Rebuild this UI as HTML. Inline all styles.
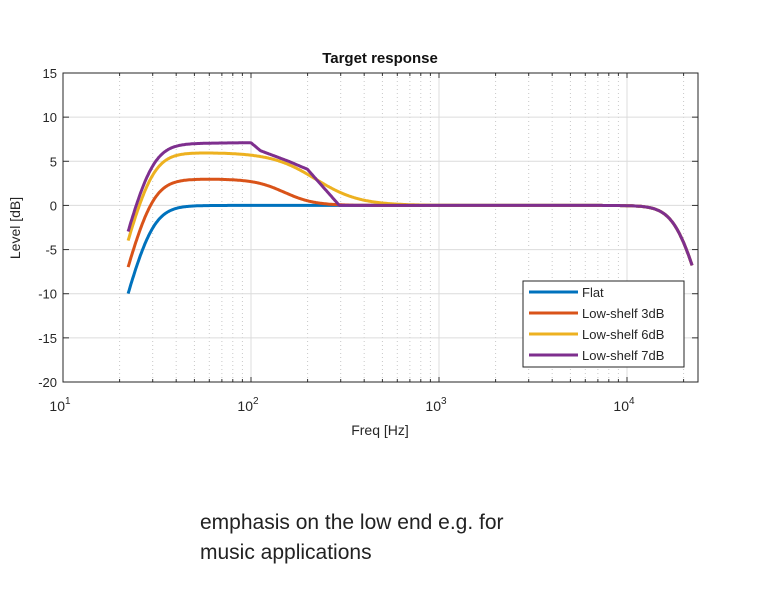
<!DOCTYPE html>
<html><head><meta charset="utf-8"><style>
body{margin:0;background:#fff;width:760px;height:606px;overflow:hidden;font-family:"Liberation Sans",sans-serif}
#t{position:absolute;left:200px;top:508px;font-size:21px;line-height:30px;color:#222}
</style></head><body>
<svg id="s" width="760" height="606" style="position:absolute;left:0;top:0" font-family="Liberation Sans, sans-serif"></svg>
<div id="t">emphasis on the low end e.g. for<br>music applications</div>
<script>
const L=63,R=698,T=73,B=382,D=188;
const X=f=>L+(Math.log10(f)-1)*D, Y=v=>T+(15-v)*(B-T)/35;
let s='';
// grid
for(let d=1;d<=4;d++)for(let m=1;m<10;m++){const f=m*Math.pow(10,d);const x=X(f);if(x>R)break;
 if(m==1){if(d>1)s+=`<line x1="${x}" y1="${T}" x2="${x}" y2="${B}" stroke="#dcdcdc"/>`;}
 else s+=`<line x1="${x}" y1="${T}" x2="${x}" y2="${B}" stroke="#c8c8c8" stroke-dasharray="1,3"/>`;
 const len=m==1?5:3;
 s+=`<line x1="${x}" y1="${B}" x2="${x}" y2="${B-len}" stroke="#333"/><line x1="${x}" y1="${T}" x2="${x}" y2="${T+len}" stroke="#333"/>`;}
for(let v=-15;v<=10;v+=5)s+=`<line x1="${L}" y1="${Y(v)}" x2="${R}" y2="${Y(v)}" stroke="#dcdcdc"/>`;
for(let v=-20;v<=15;v+=5){const y=Y(v);s+=`<line x1="${L}" y1="${y}" x2="${L+6}" y2="${y}" stroke="#333"/><line x1="${R}" y1="${y}" x2="${R-6}" y2="${y}" stroke="#333"/><text x="${L-6}" y="${y+5}" font-size="13" text-anchor="end" fill="#262626">${v}</text>`;}
for(let d=1;d<=4;d++)s+=`<text x="${X(Math.pow(10,d))-3}" y="411" font-size="14" text-anchor="middle" fill="#262626">10<tspan dy="-7" font-size="10">${d}</tspan></text>`;
s+=`<rect x="${L}" y="${T}" width="${R-L}" height="${B-T}" fill="none" stroke="#262626"/>`;
s+=`<text x="380" y="63" font-size="15" font-weight="bold" text-anchor="middle" fill="#111">Target response</text>`;
s+=`<text x="380" y="435" font-size="14" text-anchor="middle" fill="#262626">Freq [Hz]</text>`;
s+=`<text transform="translate(20,228) rotate(-90)" font-size="14" text-anchor="middle" fill="#262626">Level [dB]</text>`;
const hp=f=>-10*Math.log10(1+Math.pow(29.2/f,8)), lp=f=>-10*Math.log10(1+Math.pow(f/18800,8));
function pur(f){const l=Math.log10(f);const pts=[[1,7],[1.7,7.05],[2.0,7.1],[2.05,6.2],[2.2,5],[2.3,4.1],[2.47,0],[5,0]];
 for(let i=0;i<pts.length-1;i++)if(l<=pts[i+1][0]){const a=pts[i],b=pts[i+1];return a[1]+(b[1]-a[1])*(l-a[0])/(b[0]-a[0]);}return 0;}
const series=[["#0072BD",f=>0],["#D95319",f=>3/(1+Math.pow(f/150,5.4))],["#EDB120",f=>6/(1+Math.pow(f/220,3.7))],["#7E2F8E",pur]];
for(const [c,fn] of series){let p='';for(let l=Math.log10(22.2);l<=Math.log10(22200)+1e-9;l+=0.005){const f=Math.pow(10,l);p+=(p?'L':'M')+X(f).toFixed(1)+','+Y(hp(f)+fn(f)+lp(f)).toFixed(1);}
 s+=`<path d="${p}" fill="none" stroke="${c}" stroke-width="3" stroke-linejoin="round"/>`;}
// legend
s+=`<rect x="523" y="281" width="161" height="86" fill="#fff" stroke="#262626"/>`;
const names=["Flat","Low-shelf 3dB","Low-shelf 6dB","Low-shelf 7dB"];
names.forEach((n,i)=>{const y=292+i*21;s+=`<line x1="529" y1="${y}" x2="578" y2="${y}" stroke="${series[i][0]}" stroke-width="3"/><text x="582" y="${y+5}" font-size="13" fill="#262626">${n}</text>`;});
document.getElementById('s').innerHTML=s;
</script>
</body></html>
